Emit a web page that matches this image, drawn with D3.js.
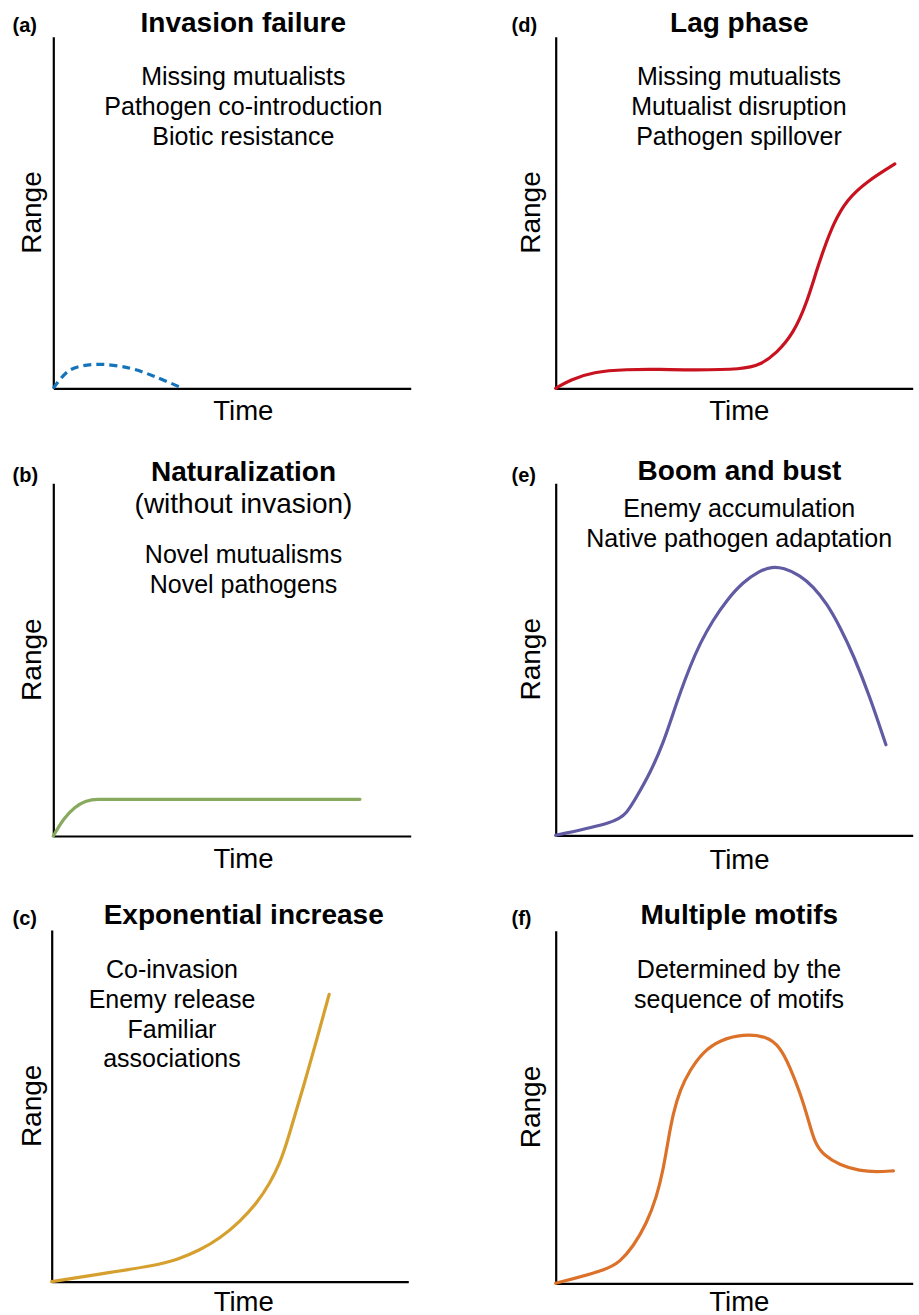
<!DOCTYPE html>
<html>
<head>
<meta charset="utf-8">
<script src="https://cdn.jsdelivr.net/npm/d3@7"></script>
<style>
  html, body { margin: 0; padding: 0; background: #fff; }
  svg { display: block; font-family: "Liberation Sans", Arial, Helvetica, sans-serif; }
</style>
</head>
<body>
<svg id="chart" width="919" height="1315"></svg>
<script>
// ---- Data (time, range) in relative units 0-100 ----
const timeA  = [0, 4.7, 12.1, 21.5, 28.5, 35.5];
const rangeA = [0, 5.2, 6.8, 5.7, 3.3, 0.3];

const timeB  = [0, 3, 6, 9, 12.5, 30, 85.8];
const rangeB = [0, 4.8, 8, 9.8, 10.4, 10.4, 10.4];

const timeC  = [0, 13.5, 29.0, 35.1, 41.6, 47.2, 52.8, 57.5, 61.2, 64.0, 65.9, 67.8, 70.6, 74.3, 77.8];
const rangeC = [0, 2.2, 4.6, 6.2, 9.0, 12.3, 17.1, 22.3, 28.0, 33.7, 39.4, 46.0, 55.4, 68.7, 81.7];

const timeD  = [0, 4.0, 10.5, 19.9, 29.2, 38.5, 52.5, 57.2, 61.9, 66.6, 70.3, 73.1, 75.0, 77.8, 81.5, 87.1, 95.0];
const rangeD = [0, 2.4, 4.7, 5.4, 5.4, 5.2, 5.4, 6.6, 10.0, 15.6, 24.2, 33.6, 39.3, 46.9, 53.6, 58.8, 63.8];

const timeE  = [0, 16.6, 19.9, 22.7, 26.4, 30.1, 32.9, 34.8, 37.6, 40.4, 44.1, 47.9, 52.5, 57.2, 60.5, 63.8, 68.4, 72.2, 75.9, 79.6, 83.4, 88.0, 92.5];
const rangeE = [0, 3.6, 6.2, 11.0, 17.6, 26.1, 34.7, 40.3, 47.9, 54.5, 61.2, 66.8, 72.0, 75.2, 76.3, 76.0, 73.9, 70.6, 65.9, 59.3, 51.2, 39.4, 25.7];

const timeF  = [0, 14.3, 18.0, 21.7, 25.5, 28.3, 30.1, 31.5, 32.9, 34.8, 37.6, 41.3, 46.0, 52.5, 59.1, 62.8, 65.6, 68.5, 70.8, 72.6, 75.0, 79.6, 85.2, 89.9, 94.6];
const rangeF = [0, 3.8, 6.1, 10.4, 17.0, 24.6, 32.1, 40.6, 48.2, 54.8, 60.5, 65.7, 69.0, 70.7, 70.1, 67.1, 61.4, 53.9, 46.3, 39.7, 36.4, 33.5, 31.9, 31.6, 31.9];

const panelLabels = ["(a)", "(b)", "(c)", "(d)", "(e)", "(f)"];
const panelTitles = ["Invasion failure", "Naturalization", "Exponential increase", "Lag phase", "Boom and bust", "Multiple motifs"];
const panelSubtitles = [[], ["(without invasion)"], [], [], [], []];
const panelNotes = [
  ["Missing mutualists", "Pathogen co-introduction", "Biotic resistance"],
  ["Novel mutualisms", "Novel pathogens"],
  ["Co-invasion", "Enemy release", "Familiar", "associations"],
  ["Missing mutualists", "Mutualist disruption", "Pathogen spillover"],
  ["Enemy accumulation", "Native pathogen adaptation"],
  ["Determined by the", "sequence of motifs"]
];
const xLabel = "Time";
const yLabel = "Range";

// ---- Layout / style (not data) ----
const layout = [
  { x0: 53.3, x1: 410.7, yTop: 36.7, yBot: 388.3, labelX: 12.5, labelY: 31.5, cx: 243.3, titleY: 31.5, subY: 0, noteCx: 243.3, noteY: 85, timeY: 419.5, rangeX: 40.5 },
  { x0: 53.3, x1: 410.7, yTop: 483.3, yBot: 836, labelX: 12.5, labelY: 481.5, cx: 243.5, titleY: 480.7, subY: 513, noteCx: 243.5, noteY: 562.7, timeY: 867.8, rangeX: 40.5 },
  { x0: 51.7, x1: 408.3, yTop: 930, yBot: 1281.7, labelX: 12.5, labelY: 925, cx: 243.7, titleY: 924.3, subY: 0, noteCx: 172, noteY: 977.7, timeY: 1310.5, rangeX: 40.5 },
  { x0: 555.7, x1: 912.7, yTop: 36.7, yBot: 388.3, labelX: 511.5, labelY: 31.5, cx: 739.3, titleY: 31.5, subY: 0, noteCx: 739, noteY: 85, timeY: 419.5, rangeX: 539.5 },
  { x0: 555.7, x1: 912.7, yTop: 483.3, yBot: 835.3, labelX: 511.5, labelY: 481.5, cx: 739.5, titleY: 480, subY: 0, noteCx: 739.2, noteY: 517.3, timeY: 868.5, rangeX: 539.5 },
  { x0: 555.7, x1: 912.7, yTop: 930.7, yBot: 1283.3, labelX: 511.5, labelY: 925, cx: 739.3, titleY: 924.3, subY: 0, noteCx: 739, noteY: 977.7, timeY: 1310.5, rangeX: 539.5 }
];
const catmull = d3.curveCatmullRom.alpha(0.5);
const series = [
  { t: timeA, r: rangeA, color: "#1474bb", dash: "8,5", curve: catmull },
  { t: timeB, r: rangeB, color: "#88aa5e", dash: null, curve: d3.curveMonotoneX },
  { t: timeC, r: rangeC, color: "#d6a02e", dash: null, curve: d3.curveBasis },
  { t: timeD, r: rangeD, color: "#c8121f", dash: null, curve: d3.curveBasis },
  { t: timeE, r: rangeE, color: "#605ba3", dash: null, curve: d3.curveBasis },
  { t: timeF, r: rangeF, color: "#dc7129", dash: null, curve: d3.curveBasis }
];

const svg = d3.select("#chart");

layout.forEach((L, i) => {
  const g = svg.append("g");
  const x = d3.scaleLinear().domain([0, 100]).range([L.x0, L.x1]);
  const y = d3.scaleLinear().domain([0, 100]).range([L.yBot, L.yTop]);

  // axes (no ticks)
  const ax = g.append("g").attr("transform", `translate(0,${L.yBot})`)
    .call(d3.axisBottom(x).tickValues([]).tickSizeOuter(0));
  const ay = g.append("g").attr("transform", `translate(${L.x0},0)`)
    .call(d3.axisLeft(y).tickValues([]).tickSizeOuter(0));
  [ax, ay].forEach(a => a.select(".domain").attr("stroke", "#000").attr("stroke-width", 2.2));

  // curve
  const s = series[i];
  const pts = s.t.map((t, k) => [t, s.r[k]]);
  const line = d3.line().x(d => x(d[0])).y(d => y(d[1])).curve(s.curve);
  const p = g.append("path").datum(pts)
    .attr("d", line)
    .attr("fill", "none")
    .attr("stroke", s.color)
    .attr("stroke-width", 3.2)
    .attr("stroke-linecap", s.dash ? "butt" : "round")
    .attr("stroke-linejoin", "round");
  if (s.dash) p.attr("stroke-dasharray", s.dash);

  // panel label
  g.append("text").attr("x", L.labelX).attr("y", L.labelY)
    .attr("font-size", 20).attr("font-weight", "bold").attr("fill", "#000")
    .text(panelLabels[i]);

  // title
  g.append("text").attr("x", L.cx).attr("y", L.titleY)
    .attr("text-anchor", "middle").attr("font-size", 28).attr("font-weight", "bold").attr("fill", "#000")
    .text(panelTitles[i]);
  panelSubtitles[i].forEach((t, k) => {
    g.append("text").attr("x", L.cx).attr("y", L.subY + k * 30)
      .attr("text-anchor", "middle").attr("font-size", 28).attr("fill", "#000")
      .text(t);
  });

  // notes
  panelNotes[i].forEach((t, k) => {
    g.append("text").attr("x", L.noteCx).attr("y", L.noteY + k * 29.9)
      .attr("text-anchor", "middle").attr("font-size", 25).attr("fill", "#000")
      .text(t);
  });

  // axis labels
  g.append("text").attr("x", L.cx).attr("y", L.timeY)
    .attr("text-anchor", "middle").attr("font-size", 27.5).attr("fill", "#000")
    .text(xLabel);
  const cy = (L.yTop + L.yBot) / 2;
  g.append("text")
    .attr("transform", `translate(${L.rangeX},${cy}) rotate(-90)`)
    .attr("text-anchor", "middle").attr("font-size", 28).attr("fill", "#000")
    .text(yLabel);
});
</script>
</body>
</html>
